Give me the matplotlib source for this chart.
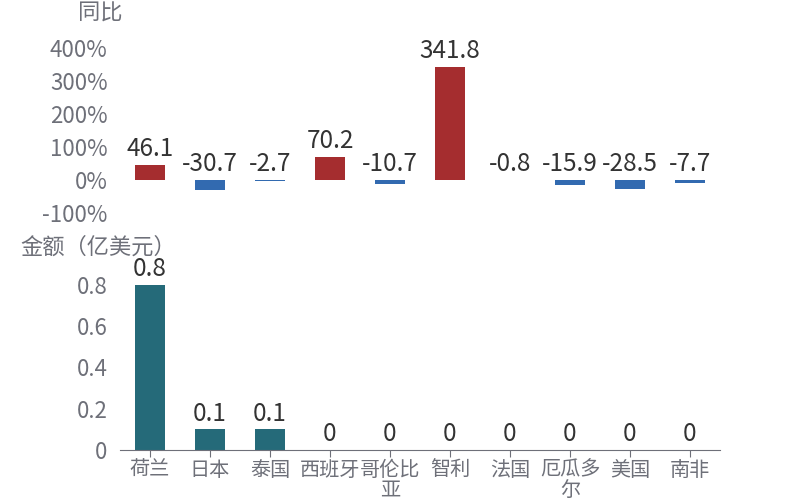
import matplotlib
matplotlib.use("Agg")
import matplotlib.pyplot as plt

plt.rcParams['font.family'] = ['Noto Sans CJK SC', 'DejaVu Sans']

countries = ["荷兰", "日本", "泰国", "西班牙", "哥伦比\n亚", "智利", "法国", "厄瓜多\n尔", "美国", "南非"]
yoy = [46.1, -30.7, -2.7, 70.2, -10.7, 341.8, -0.8, -15.9, -28.5, -7.7]
amount = [0.8, 0.1, 0.1, 0, 0, 0, 0, 0, 0, 0]
yoy_ticks = [-100, 0, 100, 200, 300, 400]
amount_ticks = [0, 0.2, 0.4, 0.6, 0.8]

RED = "#a52d2f"
BLUE = "#326ab0"
TEAL = "#256a79"
GREY = "#6e7079"
DARK = "#333333"

fig = plt.figure(figsize=(8, 5), dpi=100)

# top: year-on-year change
ax1 = fig.add_axes([0.15, 0.574, 0.75, 0.33])
x = range(len(countries))
colors = [RED if v >= 0 else BLUE for v in yoy]
ax1.bar(x, yoy, width=0.5, color=colors)
ax1.set_xlim(-0.5, len(countries) - 0.5)
ax1.set_ylim(-100, 400)
ax1.set_yticks(yoy_ticks)
ax1.set_yticklabels([f"{t}%" for t in yoy_ticks])
ax1.set_xticks([])
for s in ax1.spines.values():
    s.set_visible(False)
ax1.tick_params(axis='y', length=0, pad=9, labelsize=16, labelcolor=GREY)
for i, v in enumerate(yoy):
    ax1.annotate(str(v), (i, max(v, 0)), xytext=(0, 2), textcoords="offset points",
                 ha="center", va="bottom", fontsize=17.5, color=DARK, clip_on=False)
fig.text(0.125, 0.974, "同比", ha="center", va="center", fontsize=16, color=GREY)

# bottom: amount
ax2 = fig.add_axes([0.15, 0.1, 0.75, 0.33])
ax2.bar(x, amount, width=0.5, color=TEAL)
ax2.set_xlim(-0.5, len(countries) - 0.5)
ax2.set_ylim(0, 0.8)
ax2.set_yticks(amount_ticks)
ax2.set_yticklabels(["0", "0.2", "0.4", "0.6", "0.8"])
ax2.set_xticks(list(x))
ax2.set_xticklabels(countries, linespacing=0.95)
for name in ["top", "right", "left"]:
    ax2.spines[name].set_visible(False)
ax2.spines["bottom"].set_color(GREY)
ax2.tick_params(axis='y', length=0, pad=9, labelsize=16, labelcolor=GREY)
ax2.tick_params(axis='x', length=5, color=GREY, pad=2, labelsize=14.5, labelcolor=GREY)
for i, v in enumerate(amount):
    ax2.annotate(f"{v:g}", (i, v), xytext=(0, 2), textcoords="offset points",
                 ha="center", va="bottom", fontsize=17.5, color=DARK, clip_on=False)
fig.text(0.123, 0.506, "金额（亿美元）", ha="center", va="center", fontsize=16, color=GREY)

fig.savefig("out.png", dpi=100)
